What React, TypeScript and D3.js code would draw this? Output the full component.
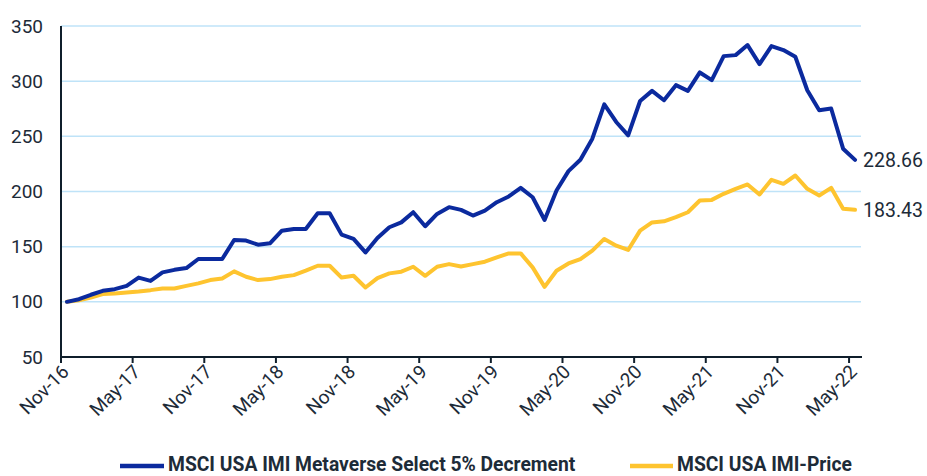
import React from "react";
import * as d3 from "d3";

// monthly index levels, Nov-16 .. May-22
const months = d3.timeMonth.range(new Date(2016, 10, 1), new Date(2022, 5, 1));
const metaverse = [
  100, 102.4, 106.4, 110, 111.5, 114.5, 122, 119, 126.7, 129, 130.6, 138.8,
  138.8, 138.8, 156, 155.5, 151.8, 153, 164.5, 166, 166, 180.3, 180.3, 160.9,
  157, 144.8, 157.9, 167.6, 172, 181.2, 168.5, 179.7, 185.8, 183.3, 178.2, 182.7,
  190.3, 195.5, 203.3, 194.8, 174.2, 200.9, 218.5, 228.8, 247.9, 279, 263, 250.9,
  282, 291.2, 282.7, 296.4, 291.2, 307.9, 300.9, 322.7, 323.6, 332.7, 315.5, 331.8,
  328.2, 322.1, 291.8, 273.6, 275.2, 238.8, 228.66,
];
const imiPrice = [
  100, 101.5, 103.9, 107, 107.6, 108.5, 109.4, 110.6, 112.1, 112.1, 114.5, 116.7,
  119.7, 121.2, 127.6, 122.7, 119.7, 120.6, 122.7, 124.2, 128.2, 132.7, 132.7, 122,
  123.6, 113, 121.5, 125.8, 127.3, 131.8, 123.6, 131.8, 134.2, 132, 134.2, 136.4,
  140.3, 143.9, 143.9, 131.2, 113.6, 128.2, 134.8, 138.8, 146.4, 157, 150.9, 147,
  164.5, 172, 173, 176.7, 181.2, 191.8, 192.4, 197.9, 202.4, 206.4, 197.3, 210.6,
  207, 214.5, 202.4, 196.4, 203.3, 184.3, 183.43,
];
const yTicks = [50, 100, 150, 200, 250, 300, 350];
const seriesNames = ["MSCI USA IMI Metaverse Select 5% Decrement", "MSCI USA IMI-Price"];

const W = 927, H = 476;
const left = 61, right = 861, top = 26, bottom = 357;
const BLUE = "#0b2a9e", YELLOW = "#fec42f", INK = "#1d2b38";
const font = "Roboto, 'Open Sans', sans-serif";

export default function App() {
  const fmt = d3.timeFormat("%b-%y");
  const x = d3.scaleBand<Date>().domain(months).range([left, right]);
  const y = d3.scaleLinear().domain([50, 350]).range([bottom, top]);
  const cx = (i: number) => (x(months[i]) as number) + x.bandwidth() / 2;
  const line = d3.line<number>().x((d, i) => cx(i)).y((d) => y(d));
  const tickMonths = months.filter((d, i) => i % 6 === 0);
  const last = months.length - 1;

  return (
    <svg width={W} height={H} style={{ position: "absolute", left: 0, top: 0 }} fontFamily={font}>
      {yTicks.slice(1).map((t) => (
        <line key={t} x1={left} x2={right} y1={y(t)} y2={y(t)} stroke="#bfe3f8" strokeWidth={1.5} />
      ))}
      {yTicks.map((t) => (
        <text key={t} x={43} y={y(t) + 6.5} textAnchor="end" fontSize={19} fill={INK}>{t}</text>
      ))}
      <line x1={left} x2={left} y1={top} y2={bottom + 1} stroke="#0f1e2b" strokeWidth={2} />
      <line x1={left} x2={right + 1} y1={bottom} y2={bottom} stroke="#0f1e2b" strokeWidth={2} />
      {tickMonths.map((m) => {
        const tx = x(m) as number;
        return (
          <g key={+m}>
            <line x1={tx} x2={tx} y1={bottom} y2={bottom + 6} stroke="#0f1e2b" strokeWidth={2} />
            <text transform={`translate(${tx + 9},${bottom + 16}) rotate(-45)`} textAnchor="end" fontSize={19} fill={INK}>
              {fmt(m)}
            </text>
          </g>
        );
      })}
      <path d={line(imiPrice) || ""} fill="none" stroke={YELLOW} strokeWidth={4} strokeLinejoin="round" strokeLinecap="round" />
      <path d={line(metaverse) || ""} fill="none" stroke={BLUE} strokeWidth={4} strokeLinejoin="round" strokeLinecap="round" />
      <text x={cx(last) + 8} y={y(metaverse[last]) + 7} fontSize={19.5} fill={INK}>{metaverse[last].toFixed(2)}</text>
      <text x={cx(last) + 8} y={y(imiPrice[last]) + 7} fontSize={19.5} fill={INK}>{imiPrice[last].toFixed(2)}</text>
      <g fontWeight="bold" fontSize={19.3} fill={INK}>
        <line x1={120} x2={164} y1={466} y2={466} stroke={BLUE} strokeWidth={4.5} />
        <text x={168} y={471}>{seriesNames[0]}</text>
        <line x1={630} x2={673} y1={466} y2={466} stroke={YELLOW} strokeWidth={4.5} />
        <text x={677} y={471}>{seriesNames[1]}</text>
      </g>
    </svg>
  );
}
